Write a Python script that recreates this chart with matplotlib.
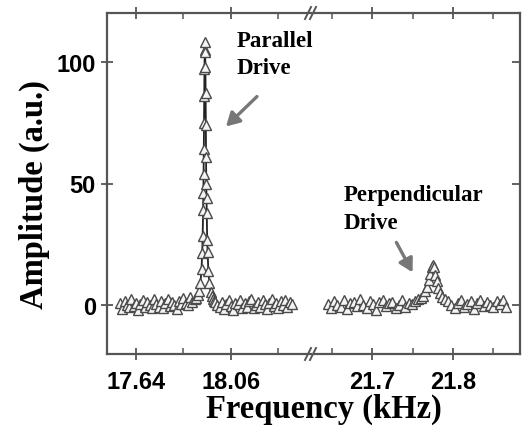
import matplotlib
matplotlib.use("Agg")
import matplotlib.pyplot as plt
from matplotlib.ticker import FixedLocator

# ---------------- data ----------------
freq_left = [17.570, 17.580, 17.590, 17.600, 17.610, 17.620, 17.630, 17.640, 17.650, 17.660,
             17.670, 17.680, 17.690, 17.700, 17.710, 17.720, 17.730, 17.740, 17.750, 17.760,
             17.770, 17.780, 17.790, 17.800, 17.810, 17.820, 17.830, 17.840, 17.850, 17.860,
             17.870, 17.880, 17.890, 17.900,
             17.905, 17.915, 17.920, 17.925, 17.930, 17.933, 17.935, 17.937, 17.938, 17.939,
             17.940, 17.941, 17.942, 17.943, 17.944, 17.945, 17.946, 17.947, 17.948, 17.949,
             17.950, 17.951, 17.952, 17.953, 17.955, 17.957, 17.960, 17.965, 17.970, 17.975,
             17.980, 17.985,
             17.990, 18.000, 18.010, 18.020, 18.030, 18.040, 18.050, 18.060, 18.070, 18.080,
             18.090, 18.100, 18.110, 18.120, 18.130, 18.140, 18.150, 18.160, 18.170, 18.180,
             18.190, 18.200, 18.210, 18.220, 18.230, 18.240, 18.250, 18.260, 18.270, 18.280,
             18.290, 18.300, 18.310, 18.320, 18.330]
amp_left = [0.8, -1.5, 1.9, 0.3, -0.9, 2.4, -0.2, 1.1, -1.8, 0.6,
            2.2, -0.7, 1.4, 0.1, -1.3, 2.7, 0.4, -0.6, 1.8, -1.1,
            0.9, 2.5, -0.4, 1.2, 0.2, -1.6, 1.7, 0.5, 2.9, 1.0,
            0.3, 3.2, 1.5, 2.4,
            2.9, 4.2, 5.9, 9.0, 15.0, 21.6, 28.6, 39.0, 46.0, 54.0,
            64.0, 75.0, 86.0, 97.0, 105.0, 108.0, 104.0, 98.0, 87.0, 74.0,
            61.0, 50.0, 44.0, 38.0, 27.0, 22.0, 14.0, 9.0, 5.5, 3.9,
            2.6, 1.8,
            1.2, 0.2, -0.8, 1.5, -1.4, 0.7, 2.0, -0.3, -1.9, 1.1,
            0.4, 2.3, -1.0, 0.8, -0.5, 1.9, 2.6, -1.2, 0.3, 1.4,
            -0.7, 2.1, 0.6, -1.5, 1.0, 2.4, -0.2, 0.9, -1.1, 1.7,
            0.1, 2.2, -0.6, 1.3, 0.5]

freq_right = [21.645, 21.649, 21.653, 21.657, 21.661, 21.665, 21.669, 21.673, 21.677, 21.681,
              21.685, 21.689, 21.693, 21.697, 21.701, 21.705, 21.709, 21.713, 21.717, 21.721,
              21.725, 21.729, 21.733, 21.737, 21.741, 21.745, 21.749, 21.753, 21.757,
              21.760, 21.763, 21.766, 21.768, 21.770, 21.772, 21.774, 21.775, 21.776, 21.778,
              21.780, 21.782, 21.784, 21.787, 21.790,
              21.794, 21.798, 21.802, 21.806, 21.810, 21.814, 21.818, 21.822, 21.826, 21.830,
              21.834, 21.838, 21.842, 21.846, 21.850, 21.854, 21.858, 21.862, 21.866]
amp_right = [0.5, -1.2, 1.8, 0.2, -0.6, 2.1, -1.5, 0.9, 1.4, -0.3,
             2.4, 0.1, -1.0, 1.6, 0.7, -1.8, 1.2, 2.0, -0.4, 0.8,
             1.5, -1.1, 0.3, 2.2, -0.7, 1.0, 0.4, 1.9, 2.5,
             3.0, 4.0, 5.8, 7.5, 10.2, 13.0, 15.8, 16.4, 15.6, 12.6,
             9.8, 7.0, 5.2, 3.6, 2.6,
             1.8, 0.3, -1.2, 1.1, 2.0, -0.5, 0.6, 1.6, -1.4, 0.9,
             2.2, -0.2, 1.3, 0.1, -0.9, 1.7, 0.4, 2.3, -0.6]

left_major = [17.64, 18.06]
left_minor = [17.85, 18.27]
right_major = [21.7, 21.8]
right_minor = [21.65, 21.75, 21.85]
y_ticks = [0, 50, 100]

# ---------------- figure ----------------
W, H = 528, 431
fig = plt.figure(figsize=(W / 100, H / 100), dpi=100)

bot = 1 - 355 / H
hgt = (355 - 14) / H
ax1 = fig.add_axes([107 / W, bot, (311 - 107) / W, hgt])
ax2 = fig.add_axes([314 / W, bot, (520 - 314) / W, hgt])

spine_col = "#555555"
tick_font = {"family": "Liberation Sans", "weight": "bold", "size": 17}
label_font = {"family": "Liberation Serif", "weight": "bold", "size": 23.5}

style = dict(marker="^", markersize=7, markerfacecolor="#f4f4f4",
             markeredgecolor="#4a4a4a", markeredgewidth=1.0,
             color="#222222", linewidth=1.3)
ax1.plot(freq_left, amp_left, **style)
ax2.plot(freq_right, amp_right, **style)

for ax in (ax1, ax2):
    ax.set_ylim(-20, 120)
    for s in ax.spines.values():
        s.set_color(spine_col)
        s.set_linewidth(1.6)
    ax.tick_params(which="major", direction="inout", length=9, width=1.3,
                   color=spine_col, top=True, bottom=True)
    ax.tick_params(which="minor", direction="in", length=4, width=1.1,
                   color=spine_col, top=True, bottom=True)

ax1.set_xlim(17.512, 18.414)
ax2.set_xlim(21.628, 21.883)

ax1.xaxis.set_major_locator(FixedLocator(left_major))
ax1.xaxis.set_minor_locator(FixedLocator(left_minor))
ax2.xaxis.set_major_locator(FixedLocator(right_major))
ax2.xaxis.set_minor_locator(FixedLocator(right_minor))
ax1.set_xticklabels(["17.64", "18.06"], fontdict=tick_font)
ax2.set_xticklabels(["21.7", "21.8"], fontdict=tick_font)

ax1.set_yticks(y_ticks)
ax1.set_yticklabels([str(v) for v in y_ticks], fontdict=tick_font)
ax1.spines["right"].set_visible(False)
ax2.spines["left"].set_visible(False)
ax1.tick_params(axis="y", which="both", right=False, left=True)
ax2.set_yticks(y_ticks)
ax2.tick_params(axis="y", which="major", left=False, right=True,
                labelleft=False, direction="in", length=6)
ax1.tick_params(axis="x", pad=7)
ax2.tick_params(axis="x", pad=7)

ax1.set_ylabel("Amplitude (a.u.)", fontdict=label_font)
ax1.yaxis.set_label_coords(-0.28, 0.47)
fig.text(324 / W, 1 - 409 / H, "Frequency (kHz)", ha="center", va="center",
         fontdict=label_font)

# break marks
for yb in (14, 355):
    for dx in (-4, 1):
        xc = 312 + dx
        fig.add_artist(plt.Line2D([(xc - 3) / W, (xc + 3) / W],
                                  [1 - (yb + 6) / H, 1 - (yb - 6) / H],
                                  color=spine_col, linewidth=1.4))

ann_font = {"family": "Liberation Serif", "weight": "bold", "size": 16.5}
arrow = dict(arrowstyle="-|>,head_length=0.8,head_width=0.45",
             color="#777777", lw=2.4, shrinkA=0, shrinkB=0)
ax1.annotate("", xy=(18.038, 73.4), xytext=(18.175, 85.7), arrowprops=arrow)
ax1.text(18.084, 113, "Parallel\nDrive", fontdict=ann_font, va="top",
         ha="left", linespacing=1.38)
ax2.annotate("", xy=(21.750, 13.5), xytext=(21.730, 25.8), arrowprops=arrow)
ax2.text(21.665, 49.8, "Perpendicular\nDrive", fontdict=ann_font, va="top",
         ha="left", linespacing=1.42)

fig.savefig("out.png", dpi=100)
